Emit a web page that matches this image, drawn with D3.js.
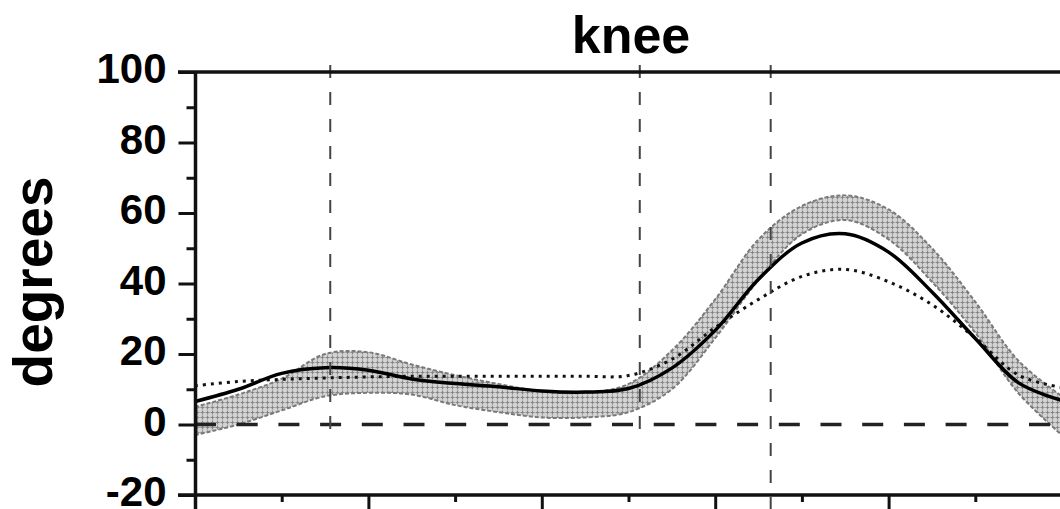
<!DOCTYPE html>
<html>
<head>
<meta charset="utf-8">
<script src="https://cdn.jsdelivr.net/npm/d3@7"></script>
<style>
  html, body { margin: 0; padding: 0; background: #fff; }
  svg { display: block; font-family: "Liberation Sans", Arial, sans-serif; }
</style>
</head>
<body>
<svg id="chart" width="1060" height="509"></svg>
<script>
// gait cycle, percent
let pct = [0, 5, 10, 15, 20, 25, 30, 35, 40, 45, 50, 55, 60, 65, 70, 75, 80, 85, 90, 95, 100];
// subject knee angle (solid)
let subject = [6.5, 10.0, 14.5, 16.1, 15.4, 12.9, 11.6, 10.7, 9.5, 9.2, 10.2, 16.0, 26.7, 41.2, 51.5, 54.1, 48.9, 37.6, 24.4, 11.8, 6.8];
// second curve (dotted)
let dotted = [11.0, 12.2, 12.8, 13.2, 13.5, 13.7, 13.7, 13.7, 13.7, 13.7, 13.9, 18.5, 27.5, 35.5, 42.0, 44.0, 40.5, 34.0, 24.5, 14.0, 10.5];
// normal band, lower and upper limits
let bandLow = [-3, 0, 4, 8, 9, 8.5, 5.5, 3.5, 2, 2, 3.5, 10, 24.5, 41, 54, 58, 52.5, 40.5, 26, 8.8, -3];
let bandHigh = [5, 8.5, 13, 20, 20.5, 17, 14, 11.5, 9.4, 9, 11.5, 21, 35.5, 52.5, 62, 65, 61, 50, 34.8, 18, 8];
// gait events (vertical dashed lines), percent
let events = [15.6, 51.3, 66.4];
let eventBottom = [-1.5, -1.5, -24];

let yMajor = [-20, 0, 20, 40, 60, 80, 100];
let yMinor = [-10, 10, 30, 50, 70, 90];
let xMajor = [0, 20, 40, 60, 80, 100];
let xMinor = [10, 30, 50, 70, 90];

const svg = d3.select("#chart");
const x = d3.scaleLinear().domain([0, 100]).range([195, 1062]);
const y = d3.scaleLinear().domain([-20, 100]).range([495, 72]);

// pattern for the normal band
const defs = svg.append("defs");
const pat = defs.append("pattern").attr("id", "cross")
    .attr("width", 5).attr("height", 5).attr("patternUnits", "userSpaceOnUse");
pat.append("rect").attr("width", 5).attr("height", 5).attr("fill", "#d4d4d4");
pat.append("path").attr("d", "M2.5,0.5V4.5M0.5,2.5H4.5")
    .attr("stroke", "#888").attr("stroke-width", 1.2);

defs.append("clipPath").attr("id", "plot")
  .append("rect").attr("x", 195).attr("y", 60).attr("width", 870).attr("height", 449);

const pts = (arr) => pct.map((p, i) => [p, arr[i]]);

const g = svg.append("g").attr("clip-path", "url(#plot)");

// band
const band = d3.area()
    .x((d, i) => x(pct[i]))
    .y0((d, i) => y(bandLow[i]))
    .y1((d, i) => y(bandHigh[i]))
    .curve(d3.curveCatmullRom);
g.append("path").datum(pct).attr("d", band)
    .attr("fill", "url(#cross)");

const line = d3.line().x(d => x(d[0])).y(d => y(d[1])).curve(d3.curveCatmullRom);
[bandLow, bandHigh].forEach(arr => {
  g.append("path").datum(pts(arr)).attr("d", line)
    .attr("fill", "none").attr("stroke", "#7a7a7a")
    .attr("stroke-width", 2).attr("stroke-dasharray", "4,2");
});

// zero line
g.append("line")
    .attr("x1", x(0)).attr("x2", 1060)
    .attr("y1", y(0)).attr("y2", y(0))
    .attr("stroke", "#222").attr("stroke-width", 3.5)
    .attr("stroke-dasharray", "21,20.7");

// event lines
events.forEach((e, i) => {
  svg.append("line")
    .attr("x1", x(e)).attr("x2", x(e))
    .attr("y1", y(102)).attr("y2", y(eventBottom[i]))
    .attr("stroke", "#444").attr("stroke-width", 2)
    .attr("stroke-dasharray", "13,14");
});

// dotted curve
g.append("path").datum(pts(dotted)).attr("d", line)
    .attr("fill", "none").attr("stroke", "#111")
    .attr("stroke-width", 3).attr("stroke-dasharray", "3,5");

// solid curve
g.append("path").datum(pts(subject)).attr("d", line)
    .attr("fill", "none").attr("stroke", "#000")
    .attr("stroke-width", 3.5);

// frame lines at top and bottom
[100, -20].forEach(v => {
  svg.append("line")
    .attr("x1", 178).attr("x2", 1060)
    .attr("y1", y(v)).attr("y2", y(v))
    .attr("stroke", "#111").attr("stroke-width", 3.5);
});

// y axis
const yAx = svg.append("g").attr("transform", "translate(195.5,0)")
    .call(d3.axisLeft(y).tickValues(yMajor).tickSize(17).tickPadding(12)
      .tickFormat(d => String(d)));
yAx.select(".domain").attr("stroke", "#111").attr("stroke-width", 3.5)
    .attr("d", "M0," + y(100) + "V" + 509);
yAx.selectAll(".tick line").attr("stroke", "#111").attr("stroke-width", 3);
yAx.selectAll(".tick text")
    .attr("font-size", 42).attr("font-weight", "bold")
    .attr("fill", "#000").attr("dy", "0.26em");

const yMin = svg.append("g").attr("transform", "translate(195.5,0)")
    .call(d3.axisLeft(y).tickValues(yMinor).tickSize(9).tickFormat(""));
yMin.select(".domain").remove();
yMin.selectAll(".tick line").attr("stroke", "#111").attr("stroke-width", 3);

// x axis ticks
const xAx = svg.append("g").attr("transform", "translate(0," + y(-20) + ")")
    .call(d3.axisBottom(x).tickValues(xMajor).tickSize(14).tickFormat(""));
xAx.select(".domain").remove();
xAx.selectAll(".tick line").attr("stroke", "#111").attr("stroke-width", 3);

const xMin = svg.append("g").attr("transform", "translate(0," + y(-20) + ")")
    .call(d3.axisBottom(x).tickValues(xMinor).tickSize(7).tickFormat(""));
xMin.select(".domain").remove();
xMin.selectAll(".tick line").attr("stroke", "#111").attr("stroke-width", 3);

// title
svg.append("text")
    .attr("x", 631).attr("y", 53)
    .attr("text-anchor", "middle")
    .attr("font-size", 52).attr("font-weight", "bold")
    .text("knee");

// y label
svg.append("text")
    .attr("transform", "translate(52,282) rotate(-90)")
    .attr("text-anchor", "middle")
    .attr("font-size", 55).attr("font-weight", "bold")
    .text("degrees");
</script>
</body>
</html>
